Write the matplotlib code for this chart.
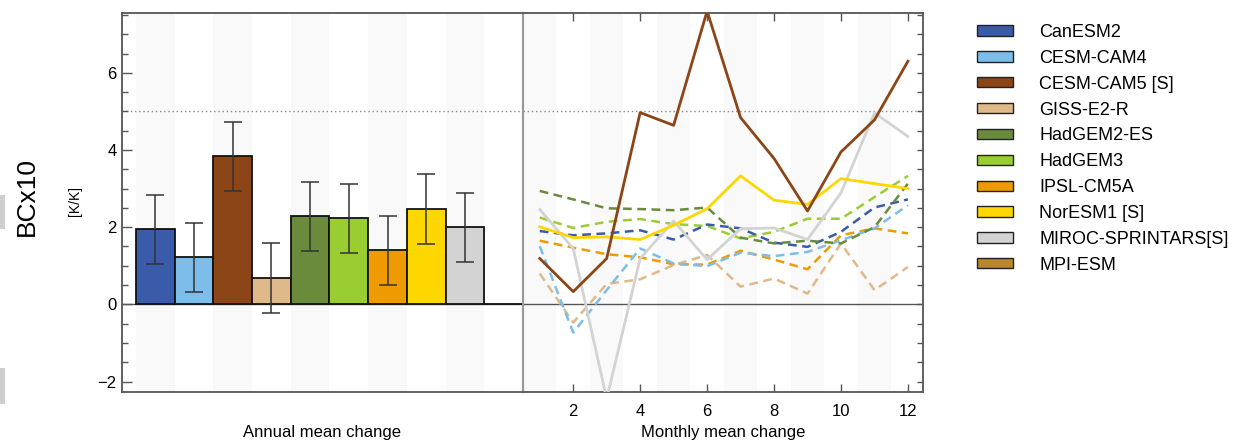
import matplotlib
matplotlib.use('Agg')
import matplotlib.pyplot as plt
from matplotlib.patches import Patch, Rectangle
import numpy as np

plt.rcParams['font.family'] = ['Liberation Sans', 'DejaVu Sans']
plt.rcParams['axes.unicode_minus'] = True

# ---------------- data ----------------
models = ["CanESM2", "CESM-CAM4", "CESM-CAM5 [S]", "GISS-E2-R", "HadGEM2-ES",
          "HadGEM3", "IPSL-CM5A", "NorESM1 [S]", "MIROC-SPRINTARS[S]", "MPI-ESM"]
colors = ["#3A5BAA", "#7DBDEA", "#8B4516", "#DFB98A", "#6A8B3C",
          "#9ACD32", "#EE9A00", "#FFD700", "#D3D3D3", "#B8862B"]

annual = [1.95, 1.23, 3.84, 0.69, 2.28, 2.23, 1.40, 2.47, 2.00, 0.0]
err_lo = [1.04, 0.32, 2.93, -0.22, 1.39, 1.34, 0.50, 1.57, 1.09, 0.0]
err_hi = [2.84, 2.12, 4.72, 1.58, 3.17, 3.12, 2.28, 3.37, 2.89, 0.0]

months = list(range(1, 13))
m_canesm = [1.90, 1.79, 1.84, 1.92, 1.68, 2.07, 1.97, 1.60, 1.49, 1.88, 2.51, 2.72]
m_cam4 = [1.51, -0.73, 0.37, 1.45, 1.06, 0.99, 1.34, 1.25, 1.36, 1.66, 1.97, 2.57]
m_cam5 = [1.19, 0.33, 1.19, 4.97, 4.64, 7.60, 4.84, 3.78, 2.42, 3.95, 4.78, 6.30]
m_giss = [0.80, -0.47, 0.53, 0.65, 1.02, 1.28, 0.46, 0.67, 0.28, 1.58, 0.37, 0.97]
m_hadgem2 = [2.94, 2.72, 2.49, 2.47, 2.44, 2.51, 1.73, 1.58, 1.65, 1.58, 2.00, 3.13]
m_hadgem3 = [2.25, 1.98, 2.14, 2.21, 2.08, 2.03, 1.71, 1.88, 2.22, 2.22, 2.78, 3.33]
m_ipsl = [1.65, 1.47, 1.30, 1.22, 1.04, 1.03, 1.39, 1.16, 0.91, 1.79, 1.97, 1.84]
m_noresm = [2.01, 1.73, 1.75, 1.68, 2.05, 2.48, 3.33, 2.70, 2.59, 3.26, 3.13, 3.00]
m_miroc = [2.46, 1.45, -2.45, 1.19, 2.16, 1.16, 1.96, 1.98, 1.68, 2.89, 4.96, 4.35]

YLIM = (-2.27, 7.55)
FRAME = "#555555"
STRIPE = "#F9F9F9"

# ---------------- figure ----------------
W, H = 1236, 445
fig = plt.figure(figsize=(W / 100, H / 100), dpi=100)
bottom, top = 1 - 392 / H, 1 - 13 / H
ax1 = fig.add_axes([122 / W, bottom, (523 - 122) / W, top - bottom])
ax2 = fig.add_axes([523 / W, bottom, (923 - 523) / W, top - bottom])

# ----- annual panel -----
x = np.arange(1, len(models) + 1)
for i in x[::2]:
    ax1.axvspan(i - 0.5, i + 0.5, color=STRIPE, lw=0, zorder=0)
ax1.axhline(5, color="#888888", lw=1, ls=(0, (1, 2)), zorder=1)
ax1.axhline(0, color=FRAME, lw=1, zorder=1)
ax1.bar(x, annual, width=1.0, color=colors, edgecolor="#111111", lw=1.3, zorder=2)
yerr = [np.array(annual[:9]) - np.array(err_lo[:9]), np.array(err_hi[:9]) - np.array(annual[:9])]
ax1.errorbar(x[:9], annual[:9], yerr=yerr, fmt="none", ecolor="#333333",
             elinewidth=1.1, capsize=6.5, capthick=1.1, zorder=3)
ax1.set_xlim(0.14, 10.5)
ax1.set_ylim(*YLIM)
ax1.set_xticks([])
ax1.set_yticks([-2, 0, 2, 4, 6])
ax1.set_yticks(np.arange(-2, 7.6, 0.5), minor=True)
ax1.tick_params(axis="y", which="major", direction="in", length=7, width=1,
                color=FRAME, labelsize=12, pad=4)
ax1.tick_params(axis="y", which="minor", direction="in", length=4, width=1, color=FRAME)
for s in ["left", "top", "bottom"]:
    ax1.spines[s].set_color(FRAME)
    ax1.spines[s].set_linewidth(1.3)
ax1.spines["right"].set_visible(False)

# ----- monthly panel -----
for m in months[::2]:
    ax2.axvspan(m - 0.5, m + 0.5, color=STRIPE, lw=0, zorder=0)
ax2.axhline(5, color="#888888", lw=1, ls=(0, (1, 2)), zorder=1)
ax2.axhline(0, color=FRAME, lw=1, zorder=1)

dashed = [(m_ipsl, colors[6]), (m_giss, colors[3]), (m_cam4, colors[1]),
          (m_hadgem3, colors[5]), (m_canesm, colors[0]), (m_hadgem2, colors[4])]
for vals, c in dashed:
    ax2.plot(months, vals, color=c, lw=1.8, ls=(0, (3.5, 2.2)), zorder=3)
ax2.plot(months, m_miroc, color=colors[8], lw=2, zorder=4)
ax2.plot(months, m_noresm, color=colors[7], lw=2, zorder=4)
ax2.plot(months, m_cam5, color=colors[2], lw=2, zorder=5)

ax2.set_xlim(0.5, 12.45)
ax2.set_ylim(*YLIM)
ax2.set_xticks(range(2, 13, 2))
ax2.tick_params(axis="x", direction="in", length=6, width=1, color=FRAME,
                top=True, bottom=True, labelsize=12, pad=9)
ax2.yaxis.tick_right()
ax2.set_yticks(np.arange(-2, 7.6, 0.5))
ax2.tick_params(axis="y", direction="in", length=4, width=1, color=FRAME,
                labelright=False, right=True, left=False)
for s in ["right", "top", "bottom"]:
    ax2.spines[s].set_color(FRAME)
    ax2.spines[s].set_linewidth(1.3)
ax2.spines["left"].set_color("#999999")
ax2.spines["left"].set_linewidth(1.6)

# ----- axis titles and left labels -----
fig.text(322 / W, 1 - 433 / H, "Annual mean change", fontsize=12, ha="center", va="center")
fig.text(723 / W, 1 - 433 / H, "Monthly mean change", fontsize=12, ha="center", va="center")
fig.text(27 / W, 1 - 196 / H, "BCx10", rotation=90, fontsize=19,
         ha="center", va="center")
fig.text(75 / W, 1 - 201 / H, "[K/K]", rotation=90, fontsize=10,
         ha="center", va="center")
fig.patches.append(Rectangle((0, 1 - 229 / H), 5 / W, 34 / H, transform=fig.transFigure,
                             color="#CFCFCF", lw=0))
fig.patches.append(Rectangle((0, 1 - 404 / H), 5 / W, 36 / H, transform=fig.transFigure,
                             color="#CFCFCF", lw=0))

# ----- legend -----
handles = [Patch(facecolor=c, edgecolor="#222222", lw=1) for c in colors]
fig.legend(handles, models, loc="upper left", bbox_to_anchor=(977 / W, 1 - 24 / H),
           frameon=False, fontsize=13, handlelength=2.0, handleheight=0.5,
           handletextpad=1.45, labelspacing=0.49, borderpad=0, borderaxespad=0)

fig.savefig("out.png", dpi=100)
